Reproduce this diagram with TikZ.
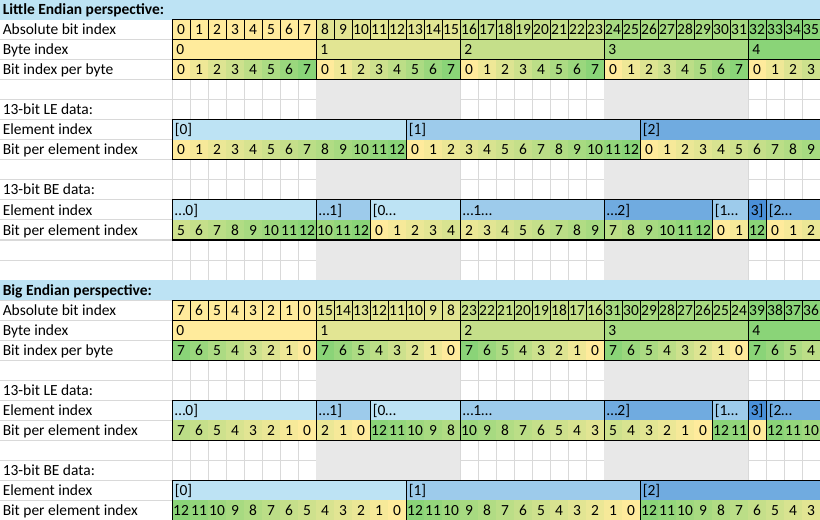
\documentclass[tikz,border=0pt]{standalone}
\usepackage{fontspec}
\setmainfont{Carlito}
\definecolor{yel}{RGB}{255,235,156}
\definecolor{grn}{RGB}{138,212,120}
\definecolor{e0}{RGB}{189,227,244}
\definecolor{e1}{RGB}{157,203,235}
\definecolor{e2}{RGB}{112,171,224}
\definecolor{e3}{RGB}{74,144,217}
\definecolor{hdr}{RGB}{189,227,244}
\definecolor{shadegray}{RGB}{232,232,232}
\definecolor{gridc}{RGB}{217,217,217}
\tikzset{
  num/.style={anchor=base,inner sep=0pt},
  lft/.style={anchor=base west,inner sep=0pt},
  cellline/.style={draw=black,line width=0.75pt},
  gridline/.style={draw=gridc,line width=0.75pt}
}
\newcommand{\byterows}[3]{%
  \foreach \bb in {0,...,4} {
    \pgfmathtruncatemacro\pp{25*\bb}
    \colorlet{bytec}{grn!\pp!yel}
    \foreach \ii in {0,...,7} {
      \pgfmathtruncatemacro\cc{8*\bb+\ii}
      \ifnum\cc<36
        \pgfmathtruncatemacro\av{8*\bb+\ii+#2*(7-2*\ii)}
        \pgfmathtruncatemacro\bv{\ii+#2*(7-2*\ii)}
        \pgfmathtruncatemacro\bp{round(100*\bv/7)}
        \pgfmathsetmacro\ww{18+(\cc>34)*10}
        \draw[cellline,fill=bytec] (172+18*\cc,20*#1) rectangle +(\ww,20);
        \node[num] (#3abs\cc) at (181+18*\cc,20*#1+15) {\av};
        \fill[grn!\bp!yel] (172+18*\cc,20*#1+40) rectangle +(18,20);
        \node[num] (#3bit\cc) at (181+18*\cc,20*#1+55) {\bv};
      \fi
    }
    \pgfmathsetmacro\ww{144+(\bb>3)*10}
    \draw[cellline,fill=bytec] (172+144*\bb,20*#1+20) rectangle +(\ww,20);
    \node[lft] (#3byte\bb) at (176+144*\bb,20*#1+35) {\bb};
    \draw[cellline] (172+144*\bb,20*#1+40) rectangle +(\ww,20);
  }
}
\newcommand{\elemrows}[3]{%
  \foreach \s/\n/\lab/\el/\f/\dd [count=\k] in {#3} {
    \pgfmathsetmacro\ww{18*\n+((\s+\n)>35)*10}
    \fill[e\el] (172+18*\s,20*#1) rectangle +(\ww,20);
    \node[lft] (#2el\k) at (174.5+18*\s,20*#1+15) {\lab};
    \foreach \j in {1,...,\n} {
      \pgfmathtruncatemacro\cc{\s+\j-1}
      \pgfmathtruncatemacro\vv{\f+(\dd)*(\j-1)}
      \pgfmathtruncatemacro\bp{round(100*\vv/12)}
      \fill[grn!\bp!yel] (172+18*\cc,20*#1+20) rectangle +(18,20);
      \node[num] (#2b\cc) at (181+18*\cc,20*#1+35) {\vv};
    }
    \draw[cellline] (172+18*\s,20*#1) rectangle +(\ww,40);
  }
}
\begin{document}
\begin{tikzpicture}[x=0.75pt,y=-0.75pt,font=\fontsize{11.6}{13}\selectfont]
\useasboundingbox (0,0) rectangle (820,520);
\begin{scope}
\clip (0,0) rectangle (820,520);
\fill[white] (0,0) rectangle (820,520);
% grid
\foreach \r in {1,...,25} \draw[gridline] (0,20*\r) -- (820,20*\r);
\foreach \c in {0,...,36} \draw[gridline] (172+18*\c,0) -- (172+18*\c,520);
% shaded blank rows
\foreach \r in {4,5,8,9,12,13,18,19,22,23}
  \foreach \b in {1,3} \fill[shadegray] (172+144*\b,20*\r) rectangle +(144,20);
% headers
\fill[hdr] (0,0) rectangle (820,20);
\node[lft,font=\fontsize{11.6}{13}\selectfont\bfseries] (hLE) at (2.5,15) {Little Endian perspective:};
\fill[hdr] (0,280) rectangle (820,300);
\node[lft,font=\fontsize{11.6}{13}\selectfont\bfseries] (hBE) at (2.5,295) {Big Endian perspective:};
% row labels
\foreach \o/\p in {0/L,280/B} {
  \node[lft] (\p lab1) at (2.5,\o+35) {Absolute bit index};
  \node[lft] (\p lab2) at (2.5,\o+55) {Byte index};
  \node[lft] (\p lab3) at (2.5,\o+75) {Bit index per byte};
  \node[lft] (\p lab5) at (2.5,\o+115) {13-bit LE data:};
  \node[lft] (\p lab6) at (2.5,\o+135) {Element index};
  \node[lft] (\p lab7) at (2.5,\o+155) {Bit per element index};
  \node[lft] (\p lab9) at (2.5,\o+195) {13-bit BE data:};
  \node[lft] (\p lab10) at (2.5,\o+215) {Element index};
  \node[lft] (\p lab11) at (2.5,\o+235) {Bit per element index};
}
% Little endian perspective
\byterows{1}{0}{L}
\elemrows{6}{LL}{0/13/{[0]}/0/0/1, 13/13/{[1]}/1/0/1, 26/10/{[2]}/2/0/1}
\elemrows{10}{LB}{0/8/{…0]}/0/5/1, 8/3/{…1]}/1/10/1, 11/5/{[0…}/0/0/1, 16/8/{…1…}/1/2/1, 24/6/{…2]}/2/7/1, 30/2/{[1…}/1/0/1, 32/1/{3]}/3/12/1, 33/3/{[2…}/2/0/1}
% Big endian perspective
\byterows{15}{1}{B}
\elemrows{20}{BL}{0/8/{…0]}/0/7/-1, 8/3/{…1]}/1/2/-1, 11/5/{[0…}/0/12/-1, 16/8/{…1…}/1/10/-1, 24/6/{…2]}/2/5/-1, 30/2/{[1…}/1/12/-1, 32/1/{3]}/3/0/-1, 33/3/{[2…}/2/12/-1}
\elemrows{24}{BB}{0/13/{[0]}/0/12/-1, 13/13/{[1]}/1/12/-1, 26/10/{[2]}/2/12/-1}
\end{scope}
\end{tikzpicture}
\end{document}
